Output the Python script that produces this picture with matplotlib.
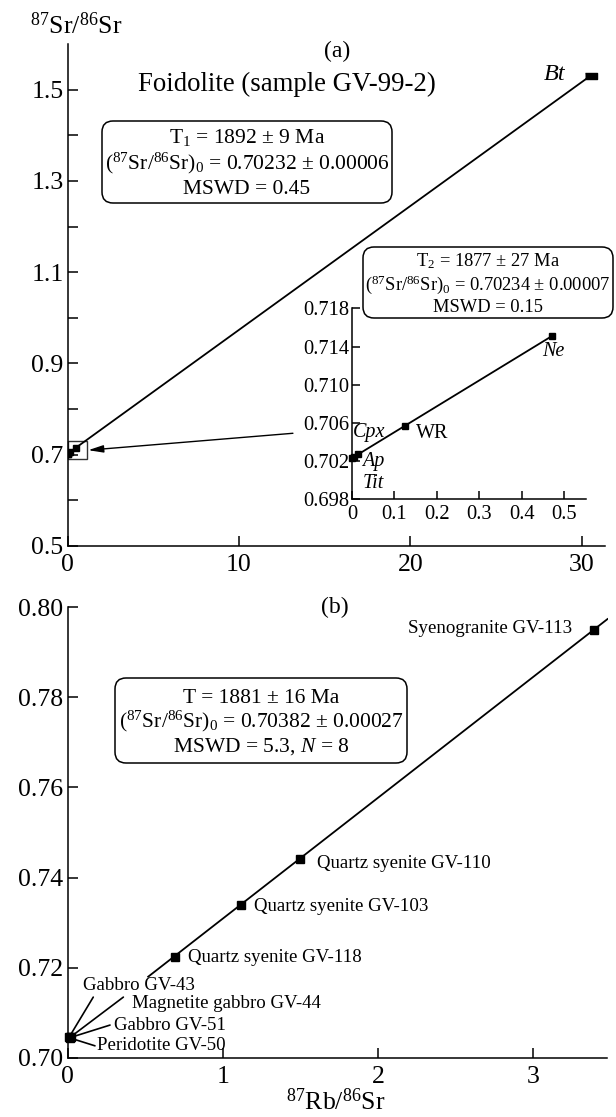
import numpy as np
import matplotlib
matplotlib.use("Agg")
import matplotlib.pyplot as plt
from matplotlib.patches import FancyBboxPatch, Rectangle
from matplotlib.transforms import IdentityTransform

plt.rcParams['font.family'] = ['Liberation Serif', 'DejaVu Serif']
plt.rcParams['mathtext.fontset'] = 'custom'
plt.rcParams['mathtext.rm'] = 'Liberation Serif'
plt.rcParams['mathtext.it'] = 'Liberation Serif:italic'

# (a) foidolite GV-99-2, minerals + whole rock
min_names = ['Tit', 'Cpx', 'Ap', 'WR', 'Ne', 'Bt']
min_rb = [0.001, 0.004, 0.0135, 0.125, 0.472, 30.53]
min_sr = [0.70232, 0.70240, 0.70271, 0.70572, 0.71510, 1.5306]

# (b) whole-rock samples
rock_names = ['Gabbro GV-43', 'Magnetite gabbro GV-44', 'Gabbro GV-51',
              'Peridotite GV-50', 'Quartz syenite GV-118',
              'Quartz syenite GV-103', 'Quartz syenite GV-110',
              'Syenogranite GV-113']
rock_rb = [0.012, 0.018, 0.022, 0.015, 0.69, 1.12, 1.50, 3.39]
rock_sr = [0.70470, 0.70462, 0.70458, 0.70445, 0.7225, 0.7340, 0.7442, 0.7950]

W, H = 616, 1117
fig = plt.figure(figsize=(W / 100, H / 100), dpi=100)


def fp(x, y):
    return x / W, 1 - y / H


def style(ax, size, length):
    for s in ('top', 'right'):
        ax.spines[s].set_visible(False)
    for s in ('left', 'bottom'):
        ax.spines[s].set_linewidth(1.1)
    ax.tick_params(which='both', direction='in', length=length, width=1.1,
                   labelsize=size)


def rbox(x0, y0, x1, y1):
    fig.add_artist(FancyBboxPatch((x0, H - y1), x1 - x0, y1 - y0,
                                  boxstyle='round,pad=0,rounding_size=11',
                                  fc='white', ec='black', lw=1.1,
                                  transform=IdentityTransform(), zorder=5))


def ftext(x, y, s, size, ha='center', **kw):
    fig.text(*fp(x, y), s, fontsize=size, ha=ha, va='baseline', zorder=6, **kw)


# ---- panel (a)
ax1 = fig.add_axes([67.7 / W, 1 - 546 / H, (605 - 67.7) / W, (546 - 44) / H])
style(ax1, 18.5, 7)
ax1.set_xlim(0, 31.37)
ax1.set_ylim(0.5, 1.6)
ax1.set_xticks([0, 10, 20, 30])
ax1.set_yticks([0.5, 0.7, 0.9, 1.1, 1.3, 1.5])
ax1.set_yticks([0.6, 0.8, 1.0, 1.2, 1.4], minor=True)
ax1.yaxis.set_major_formatter(lambda v, p: f'{v:.1f}')
ax1.tick_params(axis='x', pad=6)
ax1.tick_params(axis='y', pad=3)

coef_a = np.polyfit(min_rb, min_sr, 1)
xa = np.array([min(min_rb), max(min_rb)])
ax1.plot(xa, np.polyval(coef_a, xa), color='black', lw=1.3)
ax1.plot(min_rb[:-1], min_sr[:-1], 's', color='black', ms=4.5)
ax1.plot(min_rb[-1:], min_sr[-1:], color='black', ms=9, ls='none',
         marker=[(-1, -0.5), (1, -0.5), (1, 0.5), (-1, 0.5)])
ax1.add_patch(Rectangle((0, 0.690), 1.14, 0.040, fill=False, ec='#333333',
                        lw=1.0, clip_on=False))
ax1.annotate('', xy=(1.2, 0.710), xytext=(13.15, 0.747),
             arrowprops=dict(arrowstyle='-|>,head_length=0.9,head_width=0.22',
                             color='black', lw=1.0, shrinkA=0, shrinkB=0))

ftext(76, 34, r'$^{87}$Sr/$^{86}$Sr', 18.5)
ftext(337, 57, '(a)', 17)
ftext(286.5, 91, 'Foidolite (sample GV-99-2)', 19.3)
ftext(555, 80, 'Bt', 17.5, style='italic')

rbox(102, 121, 392, 203)
ftext(247, 143.5, r'T$_1$ = 1892 ± 9 Ma', 15.5)
ftext(247, 169, r'($^{87}$Sr/$^{86}$Sr)$_0$ = 0.70232 ± 0.00006', 15.5)
ftext(247, 194, 'MSWD = 0.45', 15.5)

# inset, minerals without biotite
axin = fig.add_axes([352 / W, 1 - 499.3 / H, (586 - 352) / W, (499.3 - 308.3) / H])
axin.set_facecolor('none')
style(axin, 14.8, 6)
axin.set_xlim(0, 0.552)
axin.set_ylim(0.698, 0.718)
axin.set_xticks([0, 0.1, 0.2, 0.3, 0.4, 0.5])
axin.set_yticks([0.698, 0.702, 0.706, 0.710, 0.714, 0.718])
axin.xaxis.set_major_formatter(lambda v, p: '0' if v == 0 else f'{v:.1f}')
axin.yaxis.set_major_formatter(lambda v, p: f'{v:.3f}')
axin.tick_params(axis='x', pad=4)
axin.tick_params(axis='y', pad=2)

coef_in = np.polyfit(min_rb[:-1], min_sr[:-1], 1)
xi = np.array([0, max(min_rb[:-1])])
axin.plot(xi, np.polyval(coef_in, xi), color='black', lw=1.3)
axin.plot(min_rb[:-1], min_sr[:-1], 's', color='black', ms=4.5, clip_on=False)

ftext(369, 436.5, 'Cpx', 14.5, style='italic')
ftext(373, 466.5, 'Ap', 14.5, style='italic')
ftext(373, 488, 'Tit', 14.5, style='italic')
ftext(432, 438, 'WR', 14.5)
ftext(553, 356.5, 'Ne', 14.5, style='italic')

rbox(363, 247, 613, 318)
ftext(488, 266.5, r'T$_2$ = 1877 ± 27 Ma', 13.3)
ftext(488, 290, r'($^{87}$Sr/$^{86}$Sr)$_0$ = 0.70234 ± 0.00007', 13.3)
ftext(488, 311.5, 'MSWD = 0.15', 13.3)

# ---- panel (b)
ax2 = fig.add_axes([67.5 / W, 1 - 1058 / H, (607.5 - 67.5) / W, (1058 - 607) / H])
style(ax2, 18.5, 7)
ax2.set_xlim(0, 3.48)
ax2.set_ylim(0.70, 0.80)
ax2.set_xticks([0, 1, 2, 3])
ax2.set_yticks(np.arange(0.70, 0.801, 0.02))
ax2.yaxis.set_major_formatter(lambda v, p: f'{v:.2f}')
ax2.tick_params(axis='x', pad=6)
ax2.tick_params(axis='y', pad=3)

coef_b = np.polyfit(rock_rb, rock_sr, 1)
xb = np.array([0.52, 3.48])
ax2.plot(xb, np.polyval(coef_b, xb), color='black', lw=1.3)
ax2.plot(rock_rb, rock_sr, 's', color='black', ms=5.5, clip_on=False)

# leader lines from the mafic cluster to their labels
leader_ends = [(0.166, 0.7135), (0.36, 0.7135), (0.274, 0.7073), (0.177, 0.7027)]
for i, end in enumerate(leader_ends):
    ax2.annotate('', xy=(rock_rb[i], rock_sr[i]), xytext=end,
                 arrowprops=dict(arrowstyle='-', color='black', lw=1.2,
                                 shrinkA=0, shrinkB=0))

label_pos = [(83.3, 990), (131.7, 1008), (114, 1030), (97.3, 1050),
             (188, 962), (254, 911), (317, 868), (408, 633)]
for name, (lx, ly) in zip(rock_names, label_pos):
    ftext(lx, ly, name, 13.6, ha='left')

ftext(335, 613, '(b)', 17)
rbox(115, 678, 407, 763)
ftext(261, 703, 'T = 1881 ± 16 Ma', 15.5)
ftext(261, 727, r'($^{87}$Sr/$^{86}$Sr)$_0$ = 0.70382 ± 0.00027', 15.5)
ftext(261, 752, r'MSWD = 5.3, $N$ = 8', 15.5)

ftext(336, 1110, r'$^{87}$Rb/$^{86}$Sr', 18.5)

fig.savefig('out.png', dpi=100)
